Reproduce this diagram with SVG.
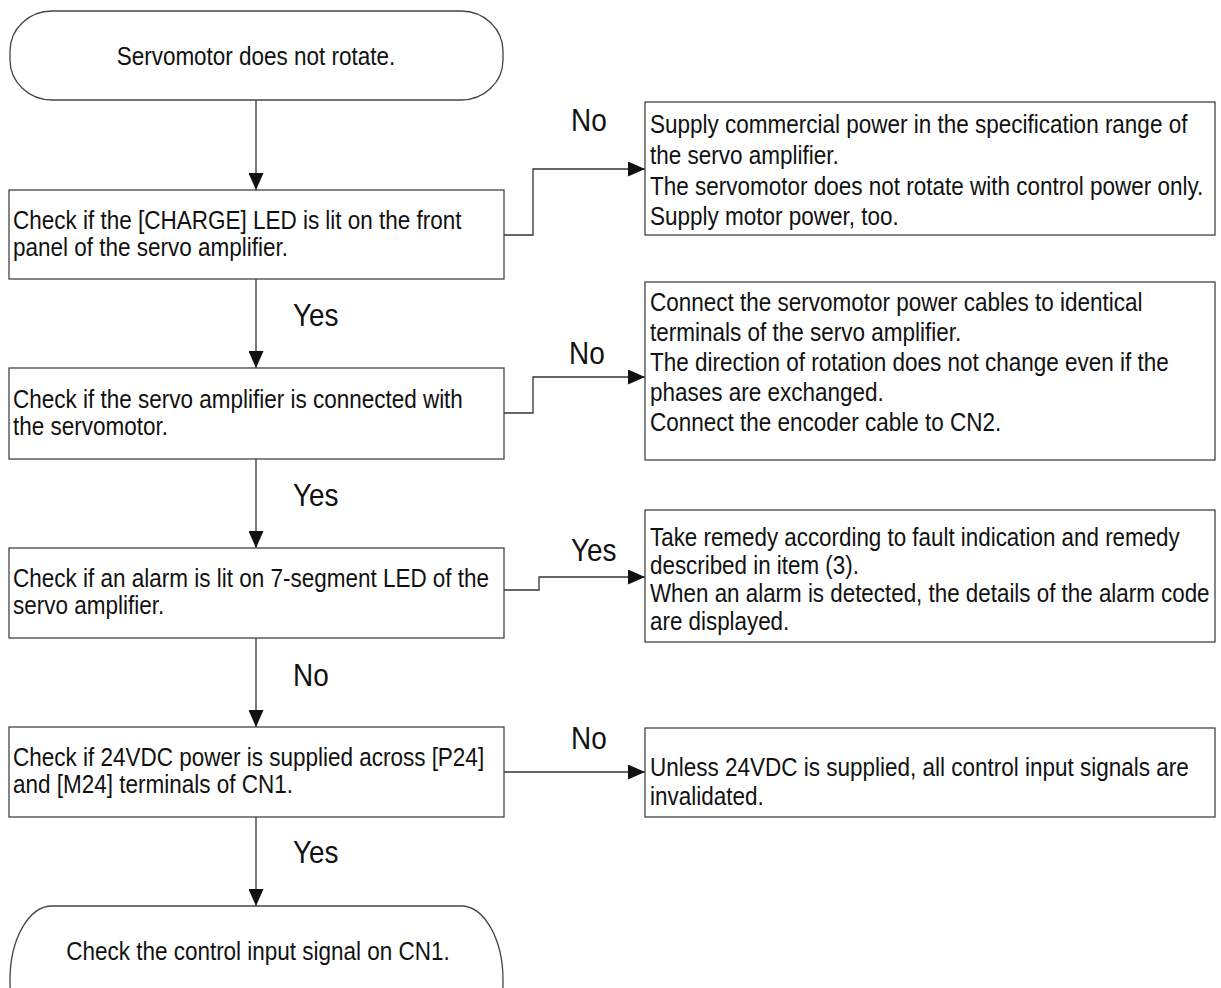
<svg xmlns="http://www.w3.org/2000/svg" width="1221" height="988" viewBox="0 0 1221 988">
<style>
.b{fill:#fff;stroke:#444;stroke-width:1.3}
.c{fill:none;stroke:#333;stroke-width:1.3}
.t{font-family:"Liberation Sans",Arial,sans-serif;font-size:25px;fill:#111}
.l{font-family:"Liberation Sans",Arial,sans-serif;font-size:31px;fill:#111}
</style>
<defs>
<marker id="ah" viewBox="0 0 17 15" refX="17" refY="7.5" markerWidth="17" markerHeight="15" orient="auto" markerUnits="userSpaceOnUse">
<path d="M0,0 L17,7.5 L0,15 z" fill="#111"/>
</marker>
</defs>
<rect width="1221" height="988" fill="#fff"/>
<g id="connectors">
<line class="c" x1="256" y1="100" x2="256" y2="190" marker-end="url(#ah)"/>
<line class="c" x1="256" y1="279" x2="256" y2="368" marker-end="url(#ah)"/>
<line class="c" x1="256" y1="459" x2="256" y2="548" marker-end="url(#ah)"/>
<line class="c" x1="256" y1="638" x2="256" y2="727" marker-end="url(#ah)"/>
<line class="c" x1="256" y1="817" x2="256" y2="906" marker-end="url(#ah)"/>
<polyline class="c" points="504,235 533,235 533,169 645,169" marker-end="url(#ah)"/>
<polyline class="c" points="504,413 533,413 533,377 645,377" marker-end="url(#ah)"/>
<polyline class="c" points="504,590 539,590 539,577 645,577" marker-end="url(#ah)"/>
<line class="c" x1="504" y1="772" x2="645" y2="772" marker-end="url(#ah)"/>
<text class="l" transform="translate(293,0) scale(0.9,1)" x="0" y="326">Yes</text>
<text class="l" transform="translate(293,0) scale(0.9,1)" x="0" y="506">Yes</text>
<text class="l" transform="translate(293,0) scale(0.9,1)" x="0" y="686">No</text>
<text class="l" transform="translate(293,0) scale(0.9,1)" x="0" y="863">Yes</text>
<text class="l" transform="translate(571,0) scale(0.9,1)" x="0" y="131">No</text>
<text class="l" transform="translate(569,0) scale(0.9,1)" x="0" y="364">No</text>
<text class="l" transform="translate(571,0) scale(0.9,1)" x="0" y="561">Yes</text>
<text class="l" transform="translate(571,0) scale(0.9,1)" x="0" y="749">No</text>
</g>
<g id="start">
<rect class="b" x="10" y="11" width="493" height="89" rx="42" ry="40"/>
<text class="t" text-anchor="middle" transform="translate(256,0) scale(0.9,1)" x="0" y="65">Servomotor does not rotate.</text>
</g>
<g id="check1">
<rect class="b" x="9" y="190" width="495" height="89"/>
<text class="t" transform="translate(13,0) scale(0.9,1)"><tspan x="0" y="229">Check if the [CHARGE] LED is lit on the front</tspan><tspan x="0" y="256">panel of the servo amplifier.</tspan></text>
</g>
<g id="check2">
<rect class="b" x="9" y="368" width="495" height="91"/>
<text class="t" transform="translate(13,0) scale(0.9,1)"><tspan x="0" y="408">Check if the servo amplifier is connected with</tspan><tspan x="0" y="435">the servomotor.</tspan></text>
</g>
<g id="check3">
<rect class="b" x="9" y="548" width="495" height="90"/>
<text class="t" transform="translate(13,0) scale(0.9,1)"><tspan x="0" y="587">Check if an alarm is lit on 7-segment LED of the</tspan><tspan x="0" y="614">servo amplifier.</tspan></text>
</g>
<g id="check4">
<rect class="b" x="9" y="727" width="495" height="90"/>
<text class="t" transform="translate(13,0) scale(0.9,1)"><tspan x="0" y="766">Check if 24VDC power is supplied across [P24]</tspan><tspan x="0" y="793">and [M24] terminals of CN1.</tspan></text>
</g>
<g id="end">
<rect class="b" x="10" y="906" width="493" height="150" rx="42" ry="74"/>
<text class="t" text-anchor="middle" transform="translate(258,0) scale(0.9,1)" x="0" y="960">Check the control input signal on CN1.</text>
</g>
<g id="remedy1">
<rect class="b" x="645" y="102" width="570" height="133"/>
<text class="t" transform="translate(650,0) scale(0.9,1)"><tspan x="0" y="133">Supply commercial power in the specification range of</tspan><tspan x="0" y="164">the servo amplifier.</tspan><tspan x="0" y="195">The servomotor does not rotate with control power only.</tspan><tspan x="0" y="225">Supply motor power, too.</tspan></text>
</g>
<g id="remedy2">
<rect class="b" x="645" y="282" width="570" height="178"/>
<text class="t" transform="translate(650,0) scale(0.9,1)"><tspan x="0" y="311">Connect the servomotor power cables to identical</tspan><tspan x="0" y="341">terminals of the servo amplifier.</tspan><tspan x="0" y="371">The direction of rotation does not change even if the</tspan><tspan x="0" y="401">phases are exchanged.</tspan><tspan x="0" y="431">Connect the encoder cable to CN2.</tspan></text>
</g>
<g id="remedy3">
<rect class="b" x="645" y="510" width="570" height="132"/>
<text class="t" transform="translate(650,0) scale(0.895,1)"><tspan x="0" y="546">Take remedy according to fault indication and remedy</tspan><tspan x="0" y="574">described in item (3).</tspan><tspan x="0" y="602">When an alarm is detected, the details of the alarm code</tspan><tspan x="0" y="630">are displayed.</tspan></text>
</g>
<g id="remedy4">
<rect class="b" x="645" y="728" width="570" height="89"/>
<text class="t" transform="translate(650,0) scale(0.9,1)"><tspan x="0" y="776">Unless 24VDC is supplied, all control input signals are</tspan><tspan x="0" y="805">invalidated.</tspan></text>
</g>
</svg>
